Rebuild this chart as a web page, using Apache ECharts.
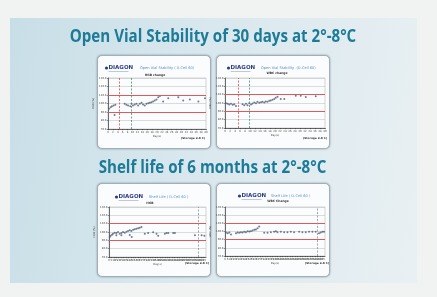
<!DOCTYPE html>
<html>
<head>
<meta charset="utf-8">
<script src="https://cdn.jsdelivr.net/npm/echarts@6/dist/echarts.min.js"></script>
<style>
  html, body { margin: 0; padding: 0; background: #f1f2f2; }
  #stage { position: relative; width: 437px; height: 297px; overflow: hidden; }
  #wall {
    position: absolute; left: 10px; top: 18px; width: 407px; height: 265px;
    background: linear-gradient(100deg, #c8dee7 0%, #d9e8ee 45%, #e9f0f3 100%);
  }
  .panel {
    position: absolute; width: 112px; height: 92px; background: #fbfcfd;
    border: 1px solid #a4aeb7; border-radius: 5px; box-shadow: 0 0 2px rgba(60, 80, 95, .6);
  }
  #chart { position: absolute; left: 0; top: 0; width: 437px; height: 297px; }
</style>
</head>
<body>
<div id="stage">
  <div id="wall"></div>
  <div class="panel" style="left:97px;top:55px"></div>
  <div class="panel" style="left:216px;top:55px"></div>
  <div class="panel" style="left:97px;top:183px"></div>
  <div class="panel" style="left:216px;top:183px"></div>
  <div id="chart"></div>
</div>
<script>
// y scale shared by all four plots (% of initial value)
const yMin = 70, yMax = 130, yStep = 10;
const limitLines = [90, 110];

// Open vial, HGB change
const hgbOpenDays = [0.4, 1.1, 1.6, 2.3, 3.0, 2.7, 6.8, 7.5, 8.2, 9.1, 9.6, 10.2, 10.9, 11.6, 12.3, 13.0, 13.7,
  14.3, 15.0, 15.7, 16.4, 17.1, 17.7, 18.4, 19.1, 19.8, 20.5, 21.2, 22.5, 24.6, 28.7, 30.7, 33.4, 36.9, 39.6];
const hgbOpenValues = [93.7, 95.7, 96.8, 97.6, 98.4, 86.6, 99.6, 98.4, 97.6, 96.8, 99.6, 97.6, 98.8, 99.6, 97.6, 99.6, 100.8,
  98.8, 97.6, 99.6, 100.4, 100.8, 101.6, 102.4, 103.6, 104.7, 107.5, 108.7, 102.4, 106.3, 107.5, 103.6, 104.7, 102.4, 106.3];
const hgbOpenMarks = [4.5, 9.6];

// Open vial, WBC change
const wbcOpenDays = [0.4, 1.1, 1.7, 2.4, 3.1, 3.7, 4.4, 7.0, 7.7, 8.4, 9.0, 9.7, 10.4, 11.0, 11.7, 12.4, 13.0, 13.7,
  14.4, 15.0, 15.7, 16.3, 17.0, 17.7, 18.3, 19.0, 19.7, 20.3, 21.0, 22.3, 23.7, 28.3, 30.3, 32.3, 36.3];
const wbcOpenValues = [99.8, 99.0, 98.2, 99.0, 97.8, 98.6, 96.5, 98.6, 97.3, 99.0, 97.3, 99.8, 98.2, 99.4, 100.6, 99.8, 101.4, 100.2,
  101.0, 101.4, 100.6, 101.8, 101.4, 102.7, 103.1, 103.9, 104.7, 106.3, 107.6, 104.7, 104.7, 108.8, 108.8, 107.1, 108.0];
const wbcOpenMarks = [5.3, 9.8];

// Shelf life, HGB
const hgbShelfDays = [1.4, 3.4, 6.2, 8.3, 11.7, 15.2, 15.2, 18.6, 22.1, 25.5, 25.5, 29.0, 32.4, 35.9, 39.3, 42.8, 42.8, 46.2,
  46.9, 49.7, 53.1, 56.6, 60.0, 63.4, 66.9, 73.8, 80.7, 91.0, 97.9, 101.4, 115.2, 118.6, 122.1, 132.4, 135.9, 177.2, 191.0, 196.6];
const hgbShelfValues = [94.0, 95.6, 96.8, 98.0, 99.2, 98.8, 96.0, 100.0, 98.0, 98.8, 96.0, 100.0, 99.2, 100.4, 101.2, 102.0, 96.4, 101.2,
  94.0, 102.8, 103.2, 104.0, 104.4, 105.2, 106.0, 98.0, 98.8, 99.6, 98.0, 95.6, 98.0, 98.8, 98.8, 98.8, 98.8, 96.0, 96.0, 95.6];
const hgbShelfMarks = [183];

// Shelf life, WBC change
const wbcShelfDays = [2.0, 5.3, 8.6, 12.0, 21.9, 25.2, 28.6, 31.9, 35.2, 38.5, 41.9, 45.2, 48.5, 51.8, 55.1, 58.5, 61.8, 65.1, 68.4,
  78.4, 85.0, 91.7, 98.3, 101.7, 105.0, 111.6, 118.3, 124.9, 131.6, 138.2, 148.2, 154.8, 161.5, 168.1, 174.8, 181.4, 188.0, 191.4, 194.7, 198.0];
const wbcShelfValues = [98.8, 98.0, 98.8, 96.3, 98.0, 98.8, 98.4, 99.2, 98.8, 99.6, 99.2, 100.4, 100.0, 100.4, 101.2, 102.0, 102.4, 104.1, 106.1,
  98.4, 98.4, 99.2, 99.6, 100.4, 99.2, 99.6, 99.2, 99.2, 99.6, 99.2, 99.6, 99.2, 99.2, 99.6, 99.6, 99.6, 98.0, 98.8, 99.6, 99.6];
const wbcShelfMarks = [185];

const pageTitles = ['Open Vial Stability of 30 days at 2°-8°C', 'Shelf life of 6 months at 2°-8°C'];

const TEAL = '#1d7b97';
const RED = '#e0585a';

const plots = [
  { grid: { left: 108, top: 78, width: 98, height: 51 }, xMax: 40, xStep: 2,
    days: hgbOpenDays, vals: hgbOpenValues, marks: hgbOpenMarks, markColors: ['#d8474a', '#4f8a68'] },
  { grid: { left: 225, top: 78, width: 100, height: 50 }, xMax: 40, xStep: 2,
    days: wbcOpenDays, vals: wbcOpenValues, marks: wbcOpenMarks, markColors: ['#d8474a', '#4f8a68'] },
  { grid: { left: 109, top: 207, width: 97, height: 50 }, xMax: 200, xStep: 5,
    days: hgbShelfDays, vals: hgbShelfValues, marks: hgbShelfMarks, markColors: ['#8a8f94'] },
  { grid: { left: 225, top: 207, width: 100, height: 49 }, xMax: 200, xStep: 5,
    days: wbcShelfDays, vals: wbcShelfValues, marks: wbcShelfMarks, markColors: ['#8a8f94'] }
];

// little texts inside each white card
const cards = [
  { logo: [105, 68], sub: 'Open Vial Stability ( 0-Cell 60)', subX: 140, subY: 68, head: 'HGB change', headXY: [155, 75], store: [193, 138] },
  { logo: [227, 68], sub: 'Open Vial Stability  (D-Cell 60)', subX: 261, subY: 68, head: 'WBC change', headXY: [277, 73], store: [315, 138] },
  { logo: [115, 197], sub: 'Shelf Life ( D-Cell 60 )', subX: 149, subY: 197, head: 'HGB', headXY: [150, 203], store: [197, 263] },
  { logo: [238, 196], sub: 'Shelf Life ( D-Cell 60 )', subX: 271, subY: 196, head: 'WBC Change', headXY: [278, 201], store: [317, 263] }
];

const chart = echarts.init(document.getElementById('chart'), null, { renderer: 'canvas' });

const titleFont = 'bold 18px "Open Sans"';
const graphic = [
  { type: 'text', x: 213, y: 37, scaleX: 0.84,
    style: { text: pageTitles[0], font: titleFont, fill: TEAL, align: 'center', verticalAlign: 'middle' } },
  { type: 'text', x: 212.5, y: 167.5, scaleX: 0.84,
    style: { text: pageTitles[1], font: titleFont, fill: TEAL, align: 'center', verticalAlign: 'middle' } }
];

cards.forEach((c) => {
  graphic.push(
    { type: 'circle', shape: { cx: c.logo[0] + 1.5, cy: c.logo[1], r: 1.6 }, style: { fill: '#2c3f86' } },
    { type: 'text', x: c.logo[0] + 3.5, y: c.logo[1], style: { text: 'DIAGON', font: 'bold 5.5px "DejaVu Sans"', fill: '#2c3f86', verticalAlign: 'middle' } },
    { type: 'rect', shape: { x: c.logo[0] + 3.5, y: c.logo[1] + 3, width: 20, height: 0.6 }, style: { fill: '#9aa3c4' } },
    { type: 'text', x: c.subX, y: c.subY, style: { text: c.sub, font: '3.6px "DejaVu Sans"', fill: '#5a8fc8', verticalAlign: 'middle' } },
    { type: 'text', x: c.headXY[0], y: c.headXY[1], style: { text: c.head, font: 'bold 3px "DejaVu Sans"', fill: '#333', align: 'center', verticalAlign: 'middle' } },
    { type: 'text', x: c.store[0], y: c.store[1], style: { text: '(Storage 2-8 C)', font: 'bold 2.8px "DejaVu Sans"', fill: '#333', align: 'center', verticalAlign: 'middle' } }
  );
});

const tiny = { fontSize: 2.6, color: '#444', fontFamily: 'DejaVu Sans' };

const option = {
  animation: false,
  backgroundColor: 'transparent',
  graphic: graphic,
  grid: plots.map((p) => Object.assign({ show: true, borderColor: '#b9b9b9', borderWidth: 0.6, backgroundColor: 'transparent' }, p.grid)),
  xAxis: plots.map((p, i) => ({
    type: 'value', gridIndex: i, min: 0, max: p.xMax, interval: p.xStep,
    name: 'Day(s)', nameLocation: 'middle', nameGap: 5, nameTextStyle: tiny,
    axisLine: { lineStyle: { color: '#333', width: 0.7 } },
    axisTick: { length: 1.2, lineStyle: { color: '#333', width: 0.5 } },
    axisLabel: Object.assign({ margin: 1.5, interval: 0 }, tiny),
    splitLine: { show: false }
  })),
  yAxis: plots.map((p, i) => ({
    type: 'value', gridIndex: i, min: yMin, max: yMax, interval: yStep,
    name: i % 2 === 0 ? 'HGB (%)' : 'WBC (%)', nameLocation: 'middle', nameRotate: 90, nameGap: 8, nameTextStyle: tiny,
    axisLine: { show: true, lineStyle: { color: '#333', width: 0.7 } },
    axisTick: { length: 1.2, lineStyle: { color: '#333', width: 0.5 } },
    axisLabel: Object.assign({ margin: 1.5, formatter: (v) => v.toFixed(1) }, tiny),
    splitLine: { lineStyle: { color: '#c4c4c4', width: 0.6 } }
  })),
  series: plots.map((p, i) => ({
    type: 'scatter', xAxisIndex: i, yAxisIndex: i,
    data: p.days.map((d, k) => [d, p.vals[k]]),
    symbolSize: 2, itemStyle: { color: '#4d5b78' },
    markLine: {
      silent: true, symbol: 'none', label: { show: false },
      data: limitLines.map((v) => ({ yAxis: v, lineStyle: { color: RED, width: 1, type: 'solid' } }))
        .concat(p.marks.map((m, k) => ({ xAxis: m, lineStyle: { color: p.markColors[k], width: 0.8, type: [2, 1.5] } })))
    }
  }))
};

chart.setOption(option);
</script>
</body>
</html>
